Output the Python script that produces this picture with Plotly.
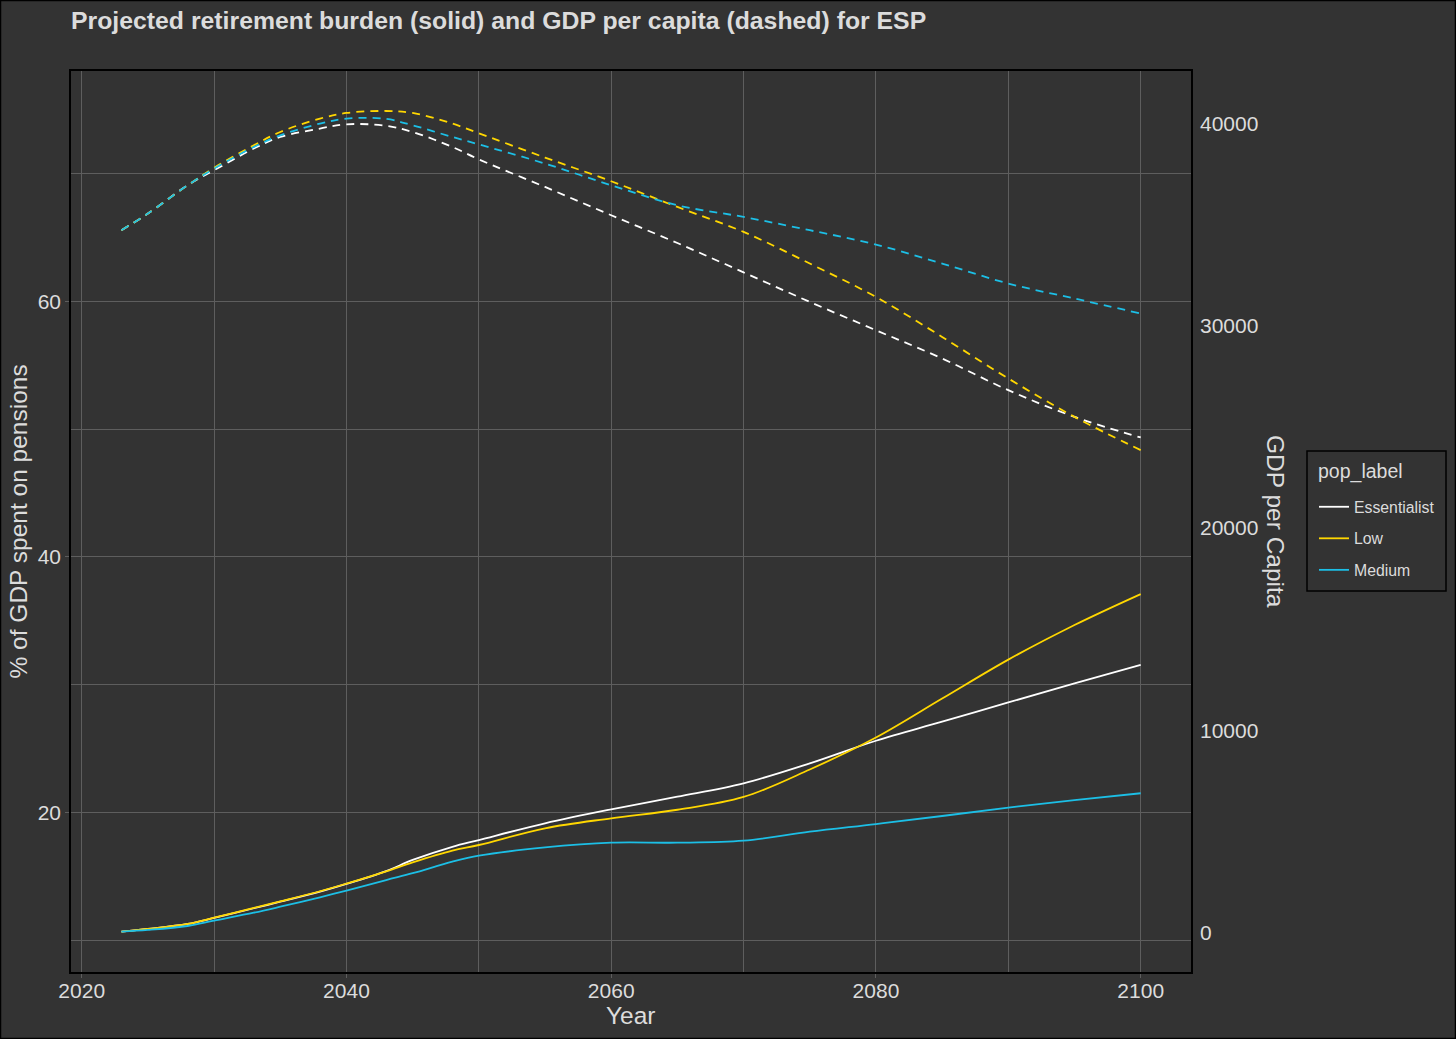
import plotly.graph_objects as go

# scenario colours
colors = {
    'Essentialist': '#FFFFFF',
    'Low': '#FFD700',
    'Medium': '#1CBFE6',
}
pop_labels = ['Essentialist', 'Low', 'Medium']

years = [2023, 2025, 2028, 2030, 2033, 2035, 2038, 2040, 2043, 2045, 2048,
         2050, 2055, 2060, 2065, 2070, 2075, 2080, 2085, 2090, 2095, 2100]

# % of GDP spent on pensions (solid)
burden_essentialist = [10.66, 10.87, 11.26, 11.73, 12.49, 13.0, 13.79, 14.39, 15.4, 16.27, 17.3,
                       17.83, 19.14, 20.23, 21.22, 22.27, 23.83, 25.6, 27.09, 28.6, 30.09, 31.53]
burden_low = [10.66, 10.87, 11.26, 11.75, 12.52, 13.03, 13.82, 14.42, 15.38, 16.08, 17.0,
              17.44, 18.75, 19.53, 20.2, 21.2, 23.35, 25.85, 28.9, 31.95, 34.66, 37.08]
burden_medium = [10.66, 10.79, 11.1, 11.52, 12.14, 12.61, 13.35, 13.87, 14.7, 15.23, 16.13,
                 16.6, 17.25, 17.62, 17.62, 17.78, 18.48, 19.08, 19.71, 20.36, 20.96, 21.49]

# GDP per capita (dashed)
gdp_essentialist = [34733, 35559, 36958, 37699, 38774, 39347, 39763, 39975, 39900, 39594, 38852,
                    38240, 36875, 35475, 34100, 32650, 31187, 29787, 28388, 26820, 25500, 24481]
gdp_low = [34733, 35559, 36958, 37824, 38936, 39594, 40257, 40534, 40633, 40534, 40010,
           39530, 38328, 37157, 35885, 34649, 33086, 31434, 29456, 27399, 25500, 23853]
gdp_medium = [34733, 35559, 36958, 37784, 38852, 39431, 40010, 40257, 40240, 39925, 39347,
              38980, 38032, 36958, 35969, 35391, 34733, 34026, 33086, 32097, 31355, 30613]

burden = {'Essentialist': burden_essentialist, 'Low': burden_low, 'Medium': burden_medium}
gdp = {'Essentialist': gdp_essentialist, 'Low': gdp_low, 'Medium': gdp_medium}

BG = '#333333'
GRID = '#5e5e5e'
TXT = '#dcdcdc'
FONT = 'Liberation Sans, Arial, sans-serif'

# plot area in pixels (left, right, top, bottom)
PL, PR, PT, PB = 71, 1191, 71, 972
PW, PH = PR - PL, PB - PT


def px_x(x):
    return (x - PL) / PW


def px_y(y):
    return (PB - y) / PH


fig = go.Figure()
for lab in pop_labels:
    fig.add_trace(go.Scatter(
        x=years, y=gdp[lab], name=lab, mode='lines', yaxis='y2',
        line=dict(color=colors[lab], width=1.8, dash='8px,6px', shape='spline'),
        showlegend=False, legendgroup=lab, hoverinfo='skip'))
for lab in pop_labels:
    fig.add_trace(go.Scatter(
        x=years, y=burden[lab], name=lab, mode='lines',
        line=dict(color=colors[lab], width=1.8, shape='spline'),
        legendgroup=lab))

axis_common = dict(showline=True, mirror=True, linecolor='#000000', linewidth=1.5,
                   zeroline=False, tickfont=dict(size=21, color=TXT, family=FONT))

fig.update_layout(
    width=1456, height=1039,
    paper_bgcolor=BG, plot_bgcolor=BG,
    margin=dict(l=PL, r=1456 - PR, t=PT, b=1039 - PB),
    font=dict(family=FONT, color=TXT),
    title=dict(text='<b>Projected retirement burden (solid) and GDP per capita (dashed) for ESP</b>',
               x=0, xref='paper', xanchor='left', y=1 - 20 / 1039, yanchor='middle',
               font=dict(size=24.8, color=TXT, family=FONT)),
    xaxis=dict(range=[2019.19, 2103.8], tick0=2020, dtick=20,
               showgrid=True, gridcolor=GRID, gridwidth=1.1,
               ticks='outside', ticklen=4, tickcolor=GRID, ticklabelstandoff=-5,
               minor=dict(dtick=10, tick0=2020, showgrid=True, gridcolor=GRID, gridwidth=0.9),
               **axis_common),
    yaxis=dict(range=[7.5, 78.02], tick0=0, dtick=20,
               showgrid=True, gridcolor=GRID, gridwidth=1.1,
               ticks='outside', ticklen=4, tickcolor=GRID,
               minor=dict(dtick=10, tick0=0, showgrid=True, gridcolor=GRID, gridwidth=0.9),
               **axis_common),
    yaxis2=dict(range=[-1963, 42611], tick0=0, dtick=10000, overlaying='y', side='right',
                showgrid=False, zeroline=False, ticks='', ticklabelstandoff=8, tickformat='d',
                tickfont=dict(size=21, color=TXT, family=FONT)),
    legend=dict(font=dict(size=15.8, color=TXT), bgcolor='rgba(0,0,0,0)', borderwidth=0,
                x=px_x(1314), xanchor='left', y=px_y(490), yanchor='top',
                tracegroupgap=8, itemwidth=30),
    annotations=[
        dict(text='Year', x=0.5, y=px_y(1015), xref='paper', yref='paper',
             showarrow=False, font=dict(size=24.5, color=TXT), yanchor='middle'),
        dict(text='% of GDP spent on pensions', x=px_x(18), y=0.5, xref='paper', yref='paper',
             showarrow=False, textangle=-90, font=dict(size=24.5, color=TXT), xanchor='center'),
        dict(text='GDP per Capita', x=px_x(1276), y=px_y(521), xref='paper', yref='paper',
             showarrow=False, textangle=90, font=dict(size=24.5, color=TXT), xanchor='center'),
        dict(text='pop_label', x=px_x(1316), y=px_y(471), xref='paper', yref='paper',
             showarrow=False, font=dict(size=19.5, color=TXT), xanchor='left', yanchor='middle'),
    ],
    shapes=[
        # legend box
        dict(type='rect', xref='paper', yref='paper',
             x0=px_x(1307), x1=px_x(1446), y0=px_y(591), y1=px_y(451),
             line=dict(color='#000000', width=1.5)),
        # outer frame of the image
        dict(type='rect', xref='paper', yref='paper',
             x0=px_x(0.5), x1=px_x(1455.5), y0=px_y(1038.5), y1=px_y(0.5),
             line=dict(color='#000000', width=1.5), layer='above'),
    ],
)

fig.write_html('out.html', config={'displayModeBar': False},
               post_script="document.body.style.margin='0';")
